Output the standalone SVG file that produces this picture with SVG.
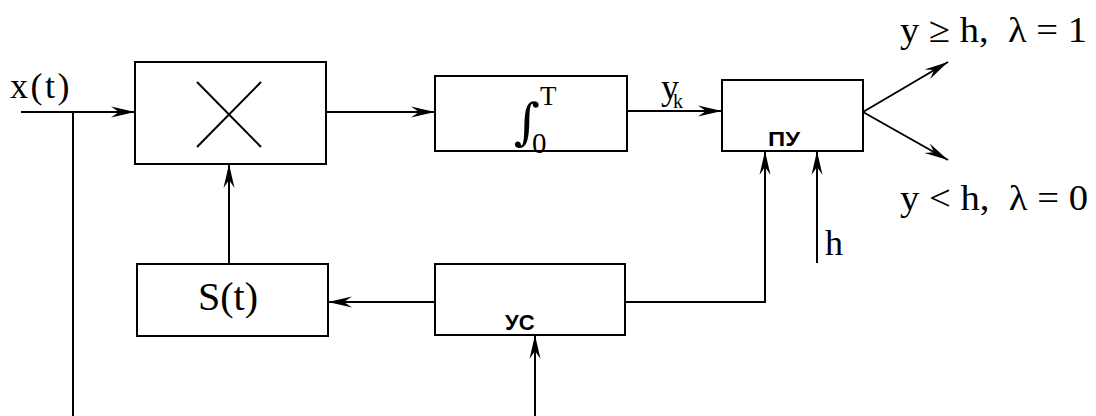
<svg xmlns="http://www.w3.org/2000/svg" width="1096" height="416" viewBox="0 0 1096 416">
<style>
.box{fill:#fff;stroke:#000;stroke-width:2}
.ln{fill:none;stroke:#000;stroke-width:2}
.arr{marker-end:url(#ah)}
.serif{font-family:"Liberation Serif","Times New Roman",serif;fill:#000}
.sans{font-family:"Liberation Sans",Arial,sans-serif;font-weight:bold;fill:#000}
</style>
<defs>
<marker id="ah" markerUnits="userSpaceOnUse" viewBox="-26 -7 27 14" refX="0" refY="0" markerWidth="27" markerHeight="14" orient="auto">
<path d="M0,0 L-24,-5.5 L-16,0 L-24,5.5 Z" fill="#000"/>
</marker>
</defs>
<rect width="1096" height="416" fill="#fff"/>
<g id="connectors">
<line class="ln arr" x1="21" y1="112" x2="135" y2="112"/>
<line class="ln" x1="73" y1="112" x2="73" y2="416"/>
<line class="ln arr" x1="326" y1="112" x2="435" y2="112"/>
<line class="ln arr" x1="627" y1="111" x2="722" y2="111"/>
<line class="ln arr" x1="863" y1="112" x2="948" y2="62"/>
<line class="ln arr" x1="863" y1="112" x2="948" y2="160"/>
<line class="ln arr" x1="229" y1="264" x2="229" y2="164"/>
<line class="ln arr" x1="435" y1="302" x2="328" y2="302"/>
<polyline class="ln arr" points="625,302 765,302 765,151"/>
<line class="ln arr" x1="817" y1="263" x2="817" y2="151"/>
<line class="ln arr" x1="535" y1="416" x2="535" y2="335"/>
</g>
<g id="multiplier">
<rect class="box" x="135" y="62" width="191" height="102"/>
<line class="ln" x1="197" y1="82" x2="261" y2="147"/>
<line class="ln" x1="261" y1="82" x2="197" y2="147"/>
</g>
<g id="integrator">
<rect class="box" x="435" y="76" width="192" height="75"/>
<text x="514" y="139" font-size="50" font-family="'DejaVu Serif',serif" fill="#000">∫</text>
<text class="serif" x="540" y="105" font-size="27">T</text>
<text class="serif" x="532" y="153" font-size="29">0</text>
</g>
<g id="decision">
<rect class="box" x="722" y="80" width="141" height="71"/>
<text class="sans" x="768" y="146" font-size="20" textLength="32" lengthAdjust="spacingAndGlyphs">ПУ</text>
</g>
<g id="signal">
<rect class="box" x="137" y="264" width="191" height="72"/>
<text class="serif" x="198" y="310" font-size="40">S(t)</text>
</g>
<g id="sync">
<rect class="box" x="435" y="264" width="190" height="71"/>
<text class="sans" x="505" y="330" font-size="22">УС</text>
</g>
<g id="labels">
<text class="serif" x="10" y="98" font-size="36" letter-spacing="2.5">x(t)</text>
<text class="serif" x="661" y="99" font-size="36">y</text>
<text class="serif" x="673" y="108" font-size="20">k</text>
<text class="serif" x="900" y="42" font-size="36" textLength="187" lengthAdjust="spacingAndGlyphs" xml:space="preserve">y ≥ h,  λ = 1</text>
<text class="serif" x="900" y="210" font-size="36" textLength="188" lengthAdjust="spacingAndGlyphs" xml:space="preserve">y &lt; h,  λ = 0</text>
<text class="serif" x="825" y="255" font-size="36">h</text>
</g>
</svg>
